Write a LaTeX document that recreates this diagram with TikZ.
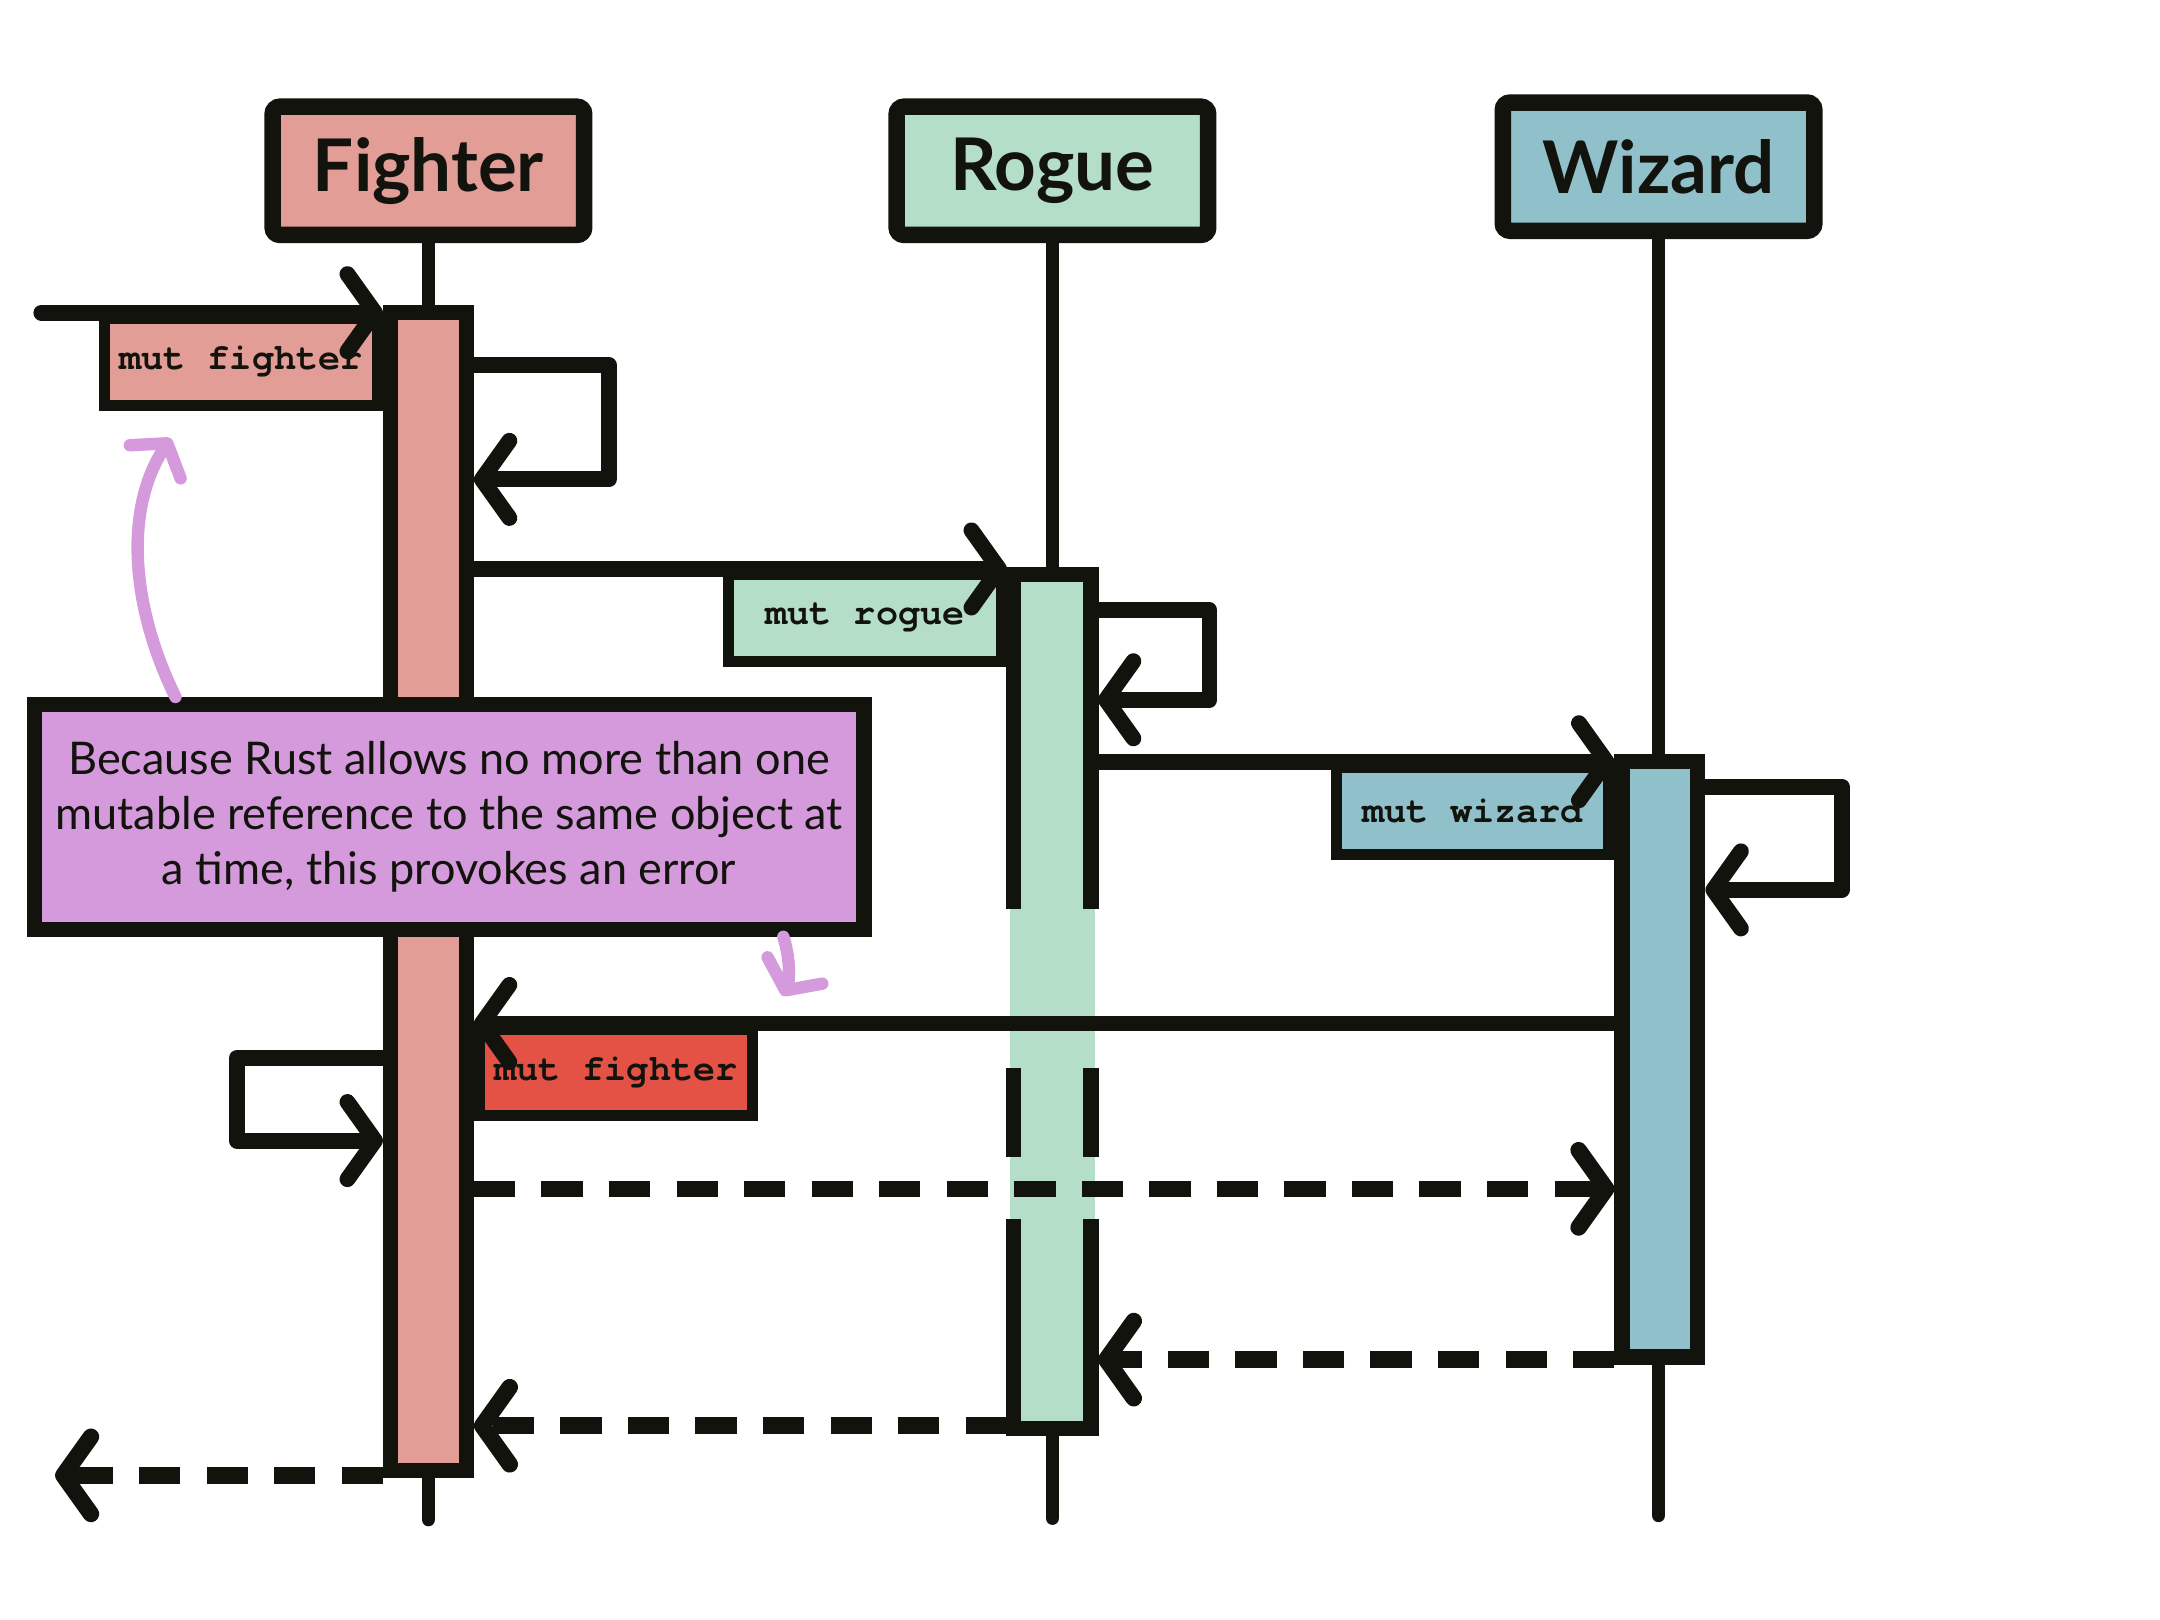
\documentclass[tikz,border=0pt]{standalone}
\usepackage{fontspec}
\setmainfont{Lato}
\newfontfamily\codefont[Ligatures=NoCommon]{TeX Gyre Cursor}
\usetikzlibrary{arrows.meta}

\definecolor{ink}{HTML}{13130E}
\definecolor{fighterfill}{HTML}{E29D96}
\definecolor{roguefill}{HTML}{B5DEC9}
\definecolor{wizardfill}{HTML}{90C1CA}
\definecolor{errorfill}{HTML}{E35245}
\definecolor{notefill}{HTML}{D49ADC}

\begin{document}
\begin{tikzpicture}[x=0.01cm, y=-0.01cm,
  header/.style={draw=ink, line width=0.12cm, rounded corners=1.5pt, minimum width=2.26cm, minimum height=0.93cm, text=ink, font=\fontsize{15pt}{18pt}\selectfont\bfseries},
  lifeline/.style={draw=ink, line width=0.1cm, line cap=round},
  bar/.style={draw=ink, line width=0.11cm, inner sep=0pt, minimum width=0.55cm},
  msglabel/.style={draw=ink, line width=0.08cm, inner sep=0pt, minimum width=1.98cm, minimum height=0.63cm, text=ink, font=\codefont\bfseries\fontsize{7.6pt}{9pt}\selectfont},
  msg/.style={draw=ink, line width=0.115cm, line cap=round, line join=round, -{Straight Barb[length=2mm,width=5.6mm,round]}},
  reply/.style={msg, line width=0.12cm, line cap=butt, dash pattern=on 0.3cm off 0.19cm},
  notebox/.style={draw=ink, fill=notefill, line width=0.11cm, minimum width=6.02cm, minimum height=1.63cm, align=center, text=ink, font=\fontsize{9.3pt}{11.4pt}\selectfont},
  hint/.style={draw=notefill, line width=0.09cm, line cap=round, -{Straight Barb[length=1.6mm,width=4.4mm,round]}}
]
\useasboundingbox (0,0) rectangle (1568,1176);

% Participants
\node[header, fill=fighterfill] (fighter) at (311,124) {Fighter};
\node[header, fill=roguefill] (rogue) at (764,124) {Rogue};
\node[header, fill=wizardfill] (wizard) at (1204,121) {Wizard};

% Lifelines
\coordinate (fighterend) at (311,1103);
\coordinate (rogueend) at (764,1102);
\coordinate (wizardend) at (1204,1100);
\draw[lifeline] (fighter.south) -- (fighterend);
\draw[lifeline] (rogue.south) -- (rogueend);
\draw[lifeline] (wizard.south) -- (wizardend);

% Activation bars
\node[bar, fill=fighterfill, minimum height=8.4cm] (fbar) at (311,647) {};
\node[fill=roguefill, inner sep=0pt, outer sep=0.02cm, minimum width=0.62cm, minimum height=6.3cm] (rbar) at (764,727) {};
\draw[ink, line width=0.11cm] (736,660) -- (736,417) -- (792,417) -- (792,660);
\draw[ink, line width=0.11cm] (736,775) -- (736,840) (792,775) -- (792,840);
\draw[ink, line width=0.11cm] (736,885) -- (736,1037) -- (792,1037) -- (792,885);
\node[bar, fill=wizardfill, minimum height=4.32cm] (wbar) at (1205,769) {};

% Message labels
\node[msglabel, fill=fighterfill, anchor=north east] (infighter) at (fbar.west |- 0,227) {mut fighter};
\node[msglabel, fill=roguefill, anchor=north east] (inrogue) at (rbar.west |- 0,413) {mut rogue};
\node[msglabel, fill=wizardfill, anchor=north east] (inwizard) at (wbar.west |- 0,553) {mut wizard};
\node[msglabel, fill=errorfill, anchor=north west] (errfighter) at (fbar.east |- 0,743) {mut fighter};

% Calls
\coordinate (caller) at (30,227);
\draw[msg] (caller) -- (caller -| fbar.west);
\draw[msg] (fbar.east |- 0,265) -| (442,348) -- (fbar.east |- 0,348);
\draw[msg] (fbar.east |- 0,413) -- (rbar.west |- 0,413);
\draw[msg] (rbar.east |- 0,443) -| (878,508) -- (rbar.east |- 0,508);
\draw[msg] (rbar.east |- 0,553) -- (wbar.west |- 0,553);
\draw[msg] (wbar.east |- 0,571) -| (1337,646) -- (wbar.east |- 0,646);
\draw[msg] (wbar.west |- 0,743) -- (fbar.east |- 0,743);
\draw[msg] (fbar.west |- 0,768) -| (172,828) -- (fbar.west |- 0,828);

% Returns
\coordinate (exit) at (40,1071);
\draw[reply] (fbar.east |- 0,863) -- (wbar.west |- 0,863);
\draw[reply] (wbar.west |- 0,987) -- (rbar.east |- 0,987);
\draw[reply] (rbar.west |- 0,1035) -- (fbar.east |- 0,1035);
\draw[reply] (exit -| fbar.west) -- (exit);

% Note
\node[notebox] (note) at (326,593) {Because Rust allows no more than one\\mutable reference to the same object at\\a time, this provokes an error};
\draw[hint] ([xshift=1.08cm]note.north west) .. controls (95,440) and (90,370) .. ([xshift=0.52cm,yshift=-0.2cm]infighter.south west);
\draw[hint] ([xshift=-0.64cm]note.south east) .. controls (575,700) and (572,715) .. ([xshift=0.18cm,yshift=0.2cm]errfighter.north east);
\end{tikzpicture}
\end{document}
